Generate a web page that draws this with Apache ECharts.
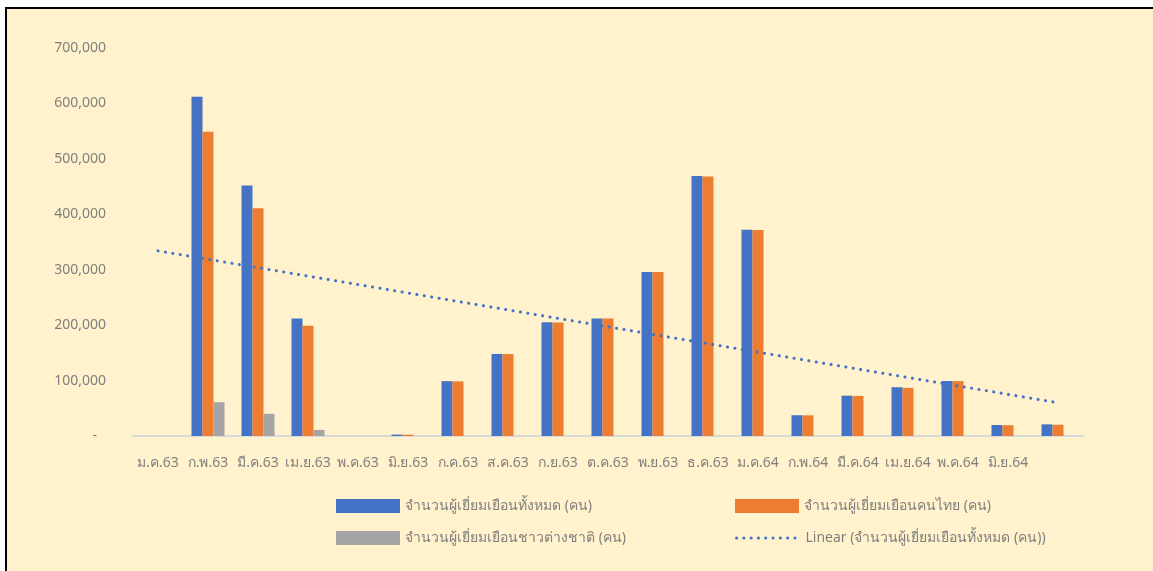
<!DOCTYPE html>
<html>
<head>
<meta charset="utf-8">
<script src="https://cdn.jsdelivr.net/npm/echarts@6/dist/echarts.min.js"></script>
<style>
  html, body { margin: 0; padding: 0; background: #ffffff; width: 1153px; height: 571px; overflow: hidden; }
  #frame { position: absolute; left: 5px; top: 7px; width: 1148px; height: 564px; background: #fff2cc;
           border-top: 2px solid #000; border-left: 2px solid #000; box-sizing: border-box; }
  #chart { position: absolute; left: 0; top: 0; width: 1153px; height: 571px; }
</style>
</head>
<body>
<div id="frame"></div>
<div id="chart"></div>
<script>
const categories = ['ม.ค.63','ก.พ.63','มี.ค.63','เม.ย.63','พ.ค.63','มิ.ย.63','ก.ค.63','ส.ค.63','ก.ย.63','ต.ค.63',
                    'พ.ย.63','ธ.ค.63','ม.ค.64','ก.พ.64','มี.ค.64','เม.ย.64','พ.ค.64','มิ.ย.64',''];
const totalVisitors   = [null, 612000, 452000, 212000, 0, 2500, 99000, 148000, 205000, 212000,
                         296000, 469000, 372000, 37500, 72800, 88000, 99200, 19800, 21000];
const thaiVisitors    = [null, 549000, 411000, 199000, 0, 2300, 98500, 147800, 204800, 211800,
                         295800, 468000, 371500, 37300, 72300, 86800, 99000, 19500, 20300];
const foreignVisitors = [null, 61000, 40000, 11000, 0, 0, 0, 0, 0, 0,
                         0, 0, 0, 0, 0, 0, 0, 0, 0];
const trendLine = [[0, 334000], [18, 60000]];
const yTicks = { min: 0, max: 700000, interval: 100000 };

const seriesNames = ['จำนวนผู้เยี่ยมเยือนทั้งหมด (คน)', 'จำนวนผู้เยี่ยมเยือนคนไทย (คน)',
                     'จำนวนผู้เยี่ยมเยือนชาวต่างชาติ (คน)', 'Linear (จำนวนผู้เยี่ยมเยือนทั้งหมด (คน))'];

const FONT = '"Noto Sans", Tahoma, sans-serif';
const TXT = '#7f7f7f';

const chart = echarts.init(document.getElementById('chart'), null, { renderer: 'canvas' });
chart.setOption({
  backgroundColor: 'transparent',
  animation: false,
  textStyle: { fontFamily: FONT },
  grid: { left: 133, right: 70, top: 48, bottom: 135, containLabel: false },
  legend: {
    left: 336, top: 497, width: 830, padding: 0,
    itemWidth: 64, itemHeight: 14, itemGap: 14,
    textStyle: { color: TXT, fontSize: 14, fontFamily: FONT, width: 316, lineHeight: 18 },
    data: [
      { name: seriesNames[0], icon: 'rect' },
      { name: seriesNames[1], icon: 'rect' },
      { name: seriesNames[2], icon: 'rect' },
      { name: seriesNames[3], itemStyle: { opacity: 0 },
        lineStyle: { color: '#4472c4', width: 3, type: [0.1, 7.2], cap: 'round' } }
    ]
  },
  xAxis: {
    type: 'category',
    data: categories,
    axisLine: { lineStyle: { color: '#d9d9d9', width: 2 } },
    axisTick: { show: false },
    axisLabel: { color: TXT, fontSize: 14, fontFamily: FONT, margin: 20, interval: 0 },
    splitLine: { show: false }
  },
  yAxis: {
    type: 'value',
    min: yTicks.min, max: yTicks.max, interval: yTicks.interval,
    axisLine: { show: false },
    axisTick: { show: false },
    splitLine: { show: false },
    axisLabel: {
      color: TXT, fontSize: 14, fontFamily: FONT, margin: 27,
      formatter: v => v === 0 ? '{z|-}' : v.toLocaleString('en-US'),
      rich: { z: { color: TXT, fontSize: 14, padding: [0, 9, 0, 0] } }
    }
  },
  series: [
    { name: seriesNames[0], type: 'bar', data: totalVisitors, barGap: '0%', barCategoryGap: '34%',
      itemStyle: { color: '#4472c4' } },
    { name: seriesNames[1], type: 'bar', data: thaiVisitors, barGap: '0%', barCategoryGap: '34%',
      itemStyle: { color: '#ed7d31' } },
    { name: seriesNames[2], type: 'bar', data: foreignVisitors, barGap: '0%', barCategoryGap: '34%',
      itemStyle: { color: '#a5a5a5' } },
    { name: seriesNames[3], type: 'line', data: trendLine, symbol: 'none', z: 5,
      itemStyle: { color: '#4472c4' },
      lineStyle: { color: '#4472c4', width: 3, type: [0.1, 7.4], cap: 'round' } }
  ]
});
</script>
</body>
</html>
